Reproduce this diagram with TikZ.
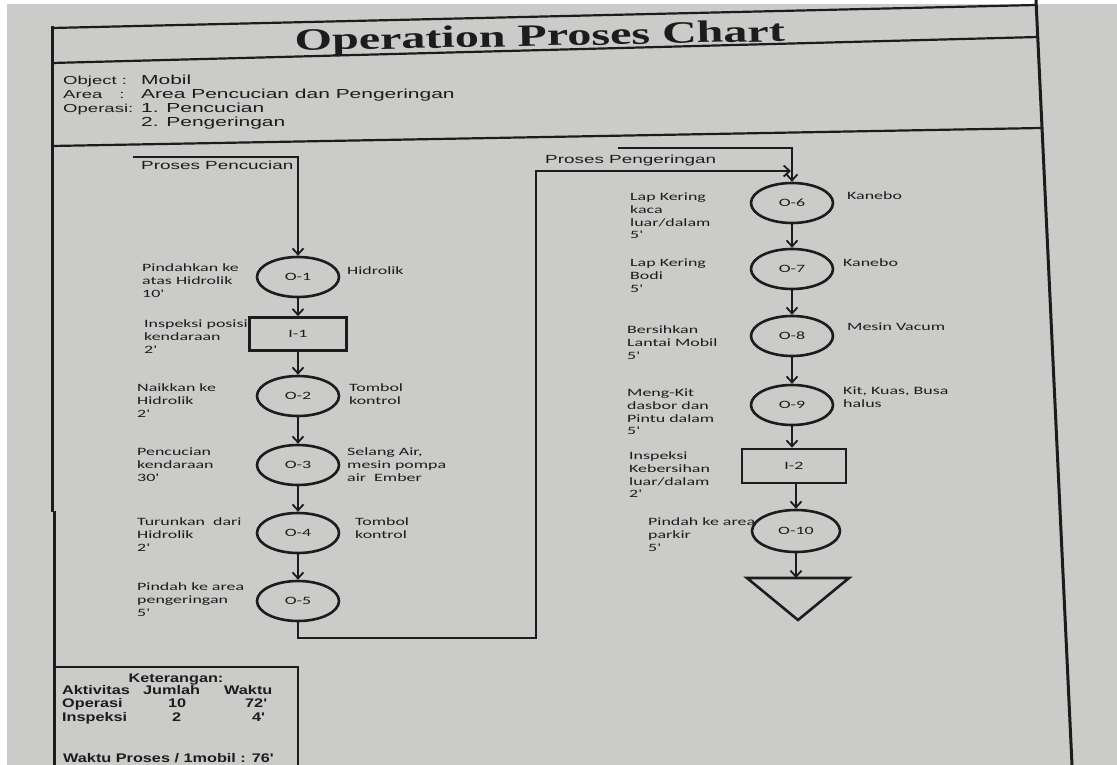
\documentclass[tikz,border=0pt]{standalone}
\usepackage{fontspec}
\usetikzlibrary{arrows.meta,shapes.geometric}
\newfontfamily\lblfont[FakeStretch=1.6]{Carlito}
\newfontfamily\hdrfont[FakeStretch=1.6]{Liberation Sans}
\newfontfamily\ketfont[FakeStretch=1.3]{Liberation Sans}
\newfontfamily\ttlfont[FakeStretch=1.55]{Liberation Serif}
\definecolor{paper}{RGB}{203,203,201}
\definecolor{ink}{RGB}{28,28,28}
\tikzset{
  lblf/.style={font=\lblfont\fontsize{11.2}{12.6}\selectfont, text=ink},
  opnode/.style={ellipse, draw=ink, line width=2.6pt, fill=paper, minimum width=82pt, minimum height=40pt, inner sep=0pt, lblf},
  inspnode/.style={rectangle, draw=ink, line width=2.6pt, fill=paper, inner sep=0pt, lblf},
  lbl/.style={anchor=north west, align=left, inner sep=0pt, lblf},
  hkey/.style={anchor=base west, inner sep=0pt, text=ink, font=\hdrfont\fontsize{11.6}{14}\selectfont},
  hval/.style={anchor=base west, inner sep=0pt, text=ink, font=\hdrfont\fontsize{13.1}{15}\selectfont},
  proc/.style={anchor=base west, inner sep=0pt, text=ink, font=\hdrfont\fontsize{11.8}{14}\selectfont},
  ket/.style={anchor=base west, inner sep=0pt, text=ink, font=\ketfont\bfseries\fontsize{12.5}{14}\selectfont},
  flow/.style={draw=ink, line width=1.8pt, -{Straight Barb[length=6pt,width=11pt]}},
  framel/.style={draw=ink, line width=2.2pt},
  border/.style={draw=ink, line width=3pt},
  tri/.style={draw=ink, line width=2.6pt}
}
\begin{document}
\begin{tikzpicture}[x=1pt,y=-1pt]
\useasboundingbox (0,0) rectangle (1117,765);
\fill[paper] (0,0) rectangle (1117,765);
\fill[white] (0,0) rectangle (7,765);
\fill[white] (0,0) rectangle (1117,4);

% frame
\draw[framel] (52,28) -- (1036,5);
\draw[framel] (52,63) -- (1038,37);
\draw[framel] (52,146) -- (1041,128);
\draw[border] (1036,0) -- (1072,765);
\draw[border] (52,26.5) -- (52,512);
\draw[border] (54.5,511) -- (54.5,765);
\draw[framel, line width=2.6pt] (54,667) -- (298,667) -- (298,765);

% title
\node[anchor=base, inner sep=0pt, text=ink, rotate=1.1, font=\ttlfont\bfseries\fontsize{31}{34}\selectfont] (title) at (540,46) {Operation Proses Chart};

% header info
\node[hkey] (kobj) at (63,85) {Object :};
\node[hkey] (karea) at (63,99) {Area\hspace{17pt}:};
\node[hkey] (kop) at (63,113) {Operasi:};
\node[hval] (vobj) at (141,85) {Mobil};
\node[hval] (varea) at (141,99) {Area Pencucian dan Pengeringan};
\node[hval] (vop1) at (141,113) {1. Pencucian};
\node[hval] (vop2) at (141,127) {2. Pengeringan};

% process titles
\node[proc] (tpc) at (141,170) {Proses Pencucian};
\node[proc] (tpg) at (545,164) {Proses Pengeringan};

% left labels
\node[lbl] (l1) at (142,264) {Pindahkan ke\\atas Hidrolik\\10'};
\node[lbl] (r1) at (347,267) {Hidrolik};
\node[lbl] (l2) at (144,320) {Inspeksi posisi\\kendaraan\\2'};
\node[lbl] (l3) at (137,384) {Naikkan ke\\Hidrolik\\2'};
\node[lbl] (r3) at (349,384) {Tombol\\kontrol};
\node[lbl] (l4) at (137,448) {Pencucian\\kendaraan\\30'};
\node[lbl] (r4) at (347,448) {Selang Air,\\mesin pompa\\air\ \ Ember};
\node[lbl] (l5) at (137,518) {Turunkan\ \ dari\\Hidrolik\\2'};
\node[lbl] (r5) at (355,518) {Tombol\\kontrol};
\node[lbl] (l6) at (137,583) {Pindah ke area\\pengeringan\\5'};

% right labels
\node[lbl] (l7) at (630,193) {Lap Kering\\kaca\\luar/dalam\\5'};
\node[lbl] (r7) at (847,192) {Kanebo};
\node[lbl] (l8) at (630,259) {Lap Kering\\Bodi\\5'};
\node[lbl] (r8) at (843,259) {Kanebo};
\node[lbl] (l9) at (627,326) {Bersihkan\\Lantai Mobil\\5'};
\node[lbl] (r9) at (847,323) {Mesin Vacum};
\node[lbl] (l10) at (627,389) {Meng-Kit\\dasbor dan\\Pintu dalam\\5'};
\node[lbl] (r10) at (843,387) {Kit, Kuas, Busa\\halus};
\node[lbl] (l11) at (629,452) {Inspeksi\\Kebersihan\\luar/dalam\\2'};
\node[lbl] (l12) at (648,518) {Pindah ke area\\parkir\\5'};

% left column shapes
\node[opnode] (O1) at (298,277) {O-1};
\node[inspnode, minimum width=97pt, minimum height=33pt] (I1) at (298,334) {I-1};
\node[opnode] (O2) at (298,396) {O-2};
\node[opnode] (O3) at (298,465) {O-3};
\node[opnode] (O4) at (298,533) {O-4};
\node[opnode] (O5) at (298,601) {O-5};

% right column shapes
\node[opnode] (O6) at (792,203) {O-6};
\node[opnode] (O7) at (792,269) {O-7};
\node[opnode] (O8) at (792,336) {O-8};
\node[opnode] (O9) at (792,405) {O-9};
\node[inspnode, minimum width=104pt, minimum height=34pt] (I2) at (794,466) {I-2};
\node[opnode, minimum width=88pt, minimum height=42pt] (O10) at (796,531) {O-10};
\draw[tri] (747,578) -- (849,578) -- (798,620) -- cycle;
\coordinate (T) at (796,578);

% connectors left
\coordinate (pcStart) at (133,157);
\draw[flow] (pcStart) -| (O1.north);
\draw[flow] (O1) -- (I1);
\draw[flow] (I1) -- (O2);
\draw[flow] (O2) -- (O3);
\draw[flow] (O3) -- (O4);
\draw[flow] (O4) -- (O5);
\coordinate (b1) at (536,638);
\coordinate (b2) at (536,171);
\coordinate (b3) at (791,171);
\draw[flow] (O5.south) |- (b1) -- (b2) -- (b3);

% connectors right
\coordinate (pgStart) at (618,148);
\draw[flow] (pgStart) -| (O6.north);
\draw[flow] (O6) -- (O7);
\draw[flow] (O7) -- (O8);
\draw[flow] (O8) -- (O9);
\draw[flow] (O9) -- (O9 |- I2.north);
\draw[flow] (I2.south -| O10) -- (O10.north);
\draw[flow] (O10.south) -- (O10.south |- T);

% keterangan
\node[ket, anchor=base] (kt) at (176,682) {Keterangan:};
\node[ket] (ka) at (62,694) {Aktivitas};
\node[ket] (kj) at (143,694) {Jumlah};
\node[ket] (kw) at (224,694) {Waktu};
\node[ket] (kop1) at (62,707) {Operasi};
\node[ket] (kop2) at (168,707) {10};
\node[ket] (kop3) at (245,707) {72'};
\node[ket] (kin1) at (62,721) {Inspeksi};
\node[ket] (kin2) at (172,721) {2};
\node[ket] (kin3) at (252,721) {4'};
\node[ket] (kwp) at (63,762) {Waktu Proses / 1mobil : 76'};
\end{tikzpicture}
\end{document}
